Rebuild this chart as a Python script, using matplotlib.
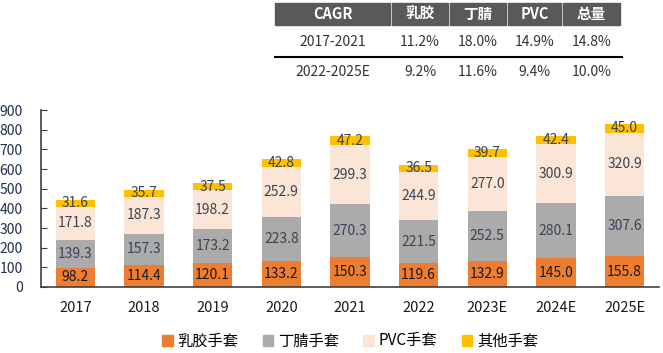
import numpy as np
import matplotlib.pyplot as plt
from matplotlib.patches import Rectangle
from matplotlib.lines import Line2D

plt.rcParams['font.family'] = ['Noto Sans CJK SC', 'DejaVu Sans']

# data
years = ['2017', '2018', '2019', '2020', '2021', '2022', '2023E', '2024E', '2025E']
latex = [98.2, 114.4, 120.1, 133.2, 150.3, 119.6, 132.9, 145.0, 155.8]
nitrile = [139.3, 157.3, 173.2, 223.8, 270.3, 221.5, 252.5, 280.1, 307.6]
pvc = [171.8, 187.3, 198.2, 252.9, 299.3, 244.9, 277.0, 300.9, 320.9]
other = [31.6, 35.7, 37.5, 42.8, 47.2, 36.5, 39.7, 42.4, 45.0]
series_names = ['乳胶手套', '丁腈手套', 'PVC手套', '其他手套']
colors = ['#ED7D31', '#ABABAB', '#FBE5D6', '#FFC000']

table_header = ['CAGR', '乳胶', '丁腈', 'PVC', '总量']
table_rows = [['2017-2021', '11.2%', '18.0%', '14.9%', '14.8%'],
              ['2022-2025E', '9.2%', '11.6%', '9.4%', '10.0%']]

W, H = 663, 353
fig = plt.figure(figsize=(W / 100, H / 100), dpi=100)
ax = fig.add_axes([41 / W, 66 / H, 618 / W, 177 / H])

x = np.arange(len(years))
bottom = np.zeros(len(years))
for vals, name, c in zip([latex, nitrile, pvc, other], series_names, colors):
    vals = np.array(vals)
    ax.bar(x, vals, 0.57, bottom=bottom, color=c, label=name)
    for xi, b, v in zip(x, bottom, vals):
        tc = '#1a1a1a' if c == '#ED7D31' else '#3A4454'
        ax.text(xi, b + v / 2, f'{v:.1f}', ha='center', va='center',
                fontsize=10, color=tc)
    bottom += vals

ax.set_xlim(-0.5, 8.5)
ax.set_ylim(0, 900)
ax.set_yticks(range(0, 901, 100))
ax.set_xticks(x)
ax.set_xticklabels(years, fontsize=10.5, color='#1a1a1a')
ax.tick_params(axis='x', length=0, pad=10)
ax.tick_params(axis='y', direction='in', length=4, color='#404040',
               labelsize=10, labelcolor='#1F2D4A', pad=13)
for s in ['top', 'right']:
    ax.spines[s].set_visible(False)
ax.spines['left'].set_color('#404040')
ax.spines['bottom'].set_color('#404040')
ax.spines['left'].set_linewidth(1.2)
ax.spines['bottom'].set_linewidth(1.2)

handles = [Rectangle((0, 0), 1, 1, color=c) for c in colors]
fig.legend(handles, series_names, loc='center', bbox_to_anchor=(350 / W, 1 - 341 / H),
           ncol=4, frameon=False, fontsize=11, handlelength=0.7, handleheight=0.7,
           handletextpad=0.3, columnspacing=1.6)

# CAGR table
col_edges = [275, 392, 450, 508, 563, 622]
for i, name in enumerate(table_header):
    x0, x1 = col_edges[i], col_edges[i + 1]
    fig.patches.append(Rectangle((x0 / W, 1 - 25 / H), (x1 - x0 - 2) / W, 22 / H,
                                 transform=fig.transFigure, color='#595959'))
    fig.text((x0 + x1 - 2) / 2 / W, 1 - 14 / H, name, ha='center', va='center',
             color='white', fontsize=10.5, fontweight='bold')
for r, row in enumerate(table_rows):
    yc = 42 if r == 0 else 72
    for i, val in enumerate(row):
        x0, x1 = col_edges[i], col_edges[i + 1]
        fig.text((x0 + x1 - 2) / 2 / W, 1 - yc / H, val, ha='center', va='center',
                 color='#333333', fontsize=10)
fig.add_artist(Line2D([275 / W, 622 / W], [1 - 57 / H, 1 - 57 / H],
                      transform=fig.transFigure, color='black', linewidth=1.5))

fig.savefig('out.png', dpi=100)
